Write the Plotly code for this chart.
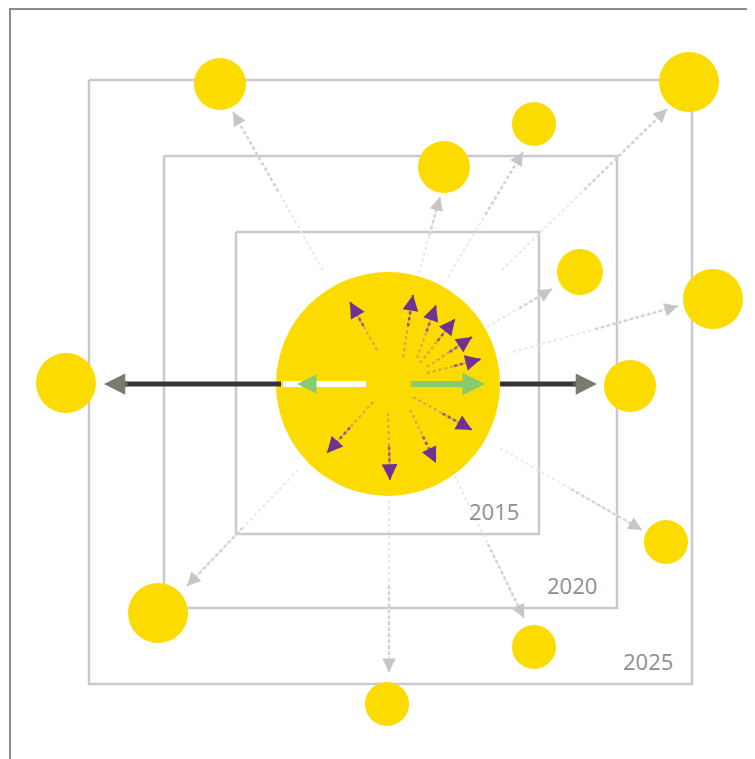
import numpy as np
import plotly.graph_objects as go

W, H = 755, 759
OFF = 8  # page body margin

# core circle
core_x, core_y, core_r = 388, 384, 112

# nested year squares (left, top, right, bottom) and labels
sq_years = ["2015", "2020", "2025"]
sq_left = [236, 164, 89]
sq_top = [232, 156, 80]
sq_right = [539, 617, 692]
sq_bottom = [534, 608, 684]
lbl_x = [494, 572, 648]
lbl_y = [511, 585, 661]

# satellite circles
sat_x = [220, 689, 534, 444, 580, 713, 66, 630, 666, 158, 534, 387]
sat_y = [84, 82, 124, 167, 272, 299, 383, 386, 542, 613, 647, 704]
sat_r = [26, 30, 22, 26, 23, 30, 30, 26, 22, 30, 22, 22]

# light grey arrows: tail -> head
ga_x0 = [323, 419, 448, 502, 487, 513, 500, 452, 389, 298]
ga_y0 = [270, 273, 277, 270, 327, 352, 448, 470, 500, 470]
ga_x1 = [233, 440, 523, 667, 552, 678, 642, 524, 389, 187]
ga_y1 = [112, 197, 152, 109, 289, 306, 530, 618, 672, 586]

# purple arrows inside core
pa_x0 = [377, 403, 417, 420, 427, 427, 413, 410, 388, 373]
pa_y0 = [350, 357, 358, 363, 367, 373, 397, 410, 413, 402]
pa_x1 = [350, 413, 436, 455, 472, 481, 472, 436, 390, 327]
pa_y1 = [302, 295, 305, 319, 337, 359, 430, 463, 480, 453]

# horizontal arrows
blk_left = (281, 104)
blk_right = (500, 597)
white_bar = (283, 366)
green_left_tip = 297
green_right = (411, 485)
axis_y = 384

YELLOW = "#FCDB00"
fig = go.Figure()
ann = []


def head(x0, y0, x1, y1, color, size, width, back=10):
    d = np.array([x1 - x0, y1 - y0], dtype=float)
    d /= np.hypot(*d)
    return dict(x=x1, y=y1, ax=x1 - d[0] * back, ay=y1 - d[1] * back,
                xref="x", yref="y", axref="x", ayref="y", text="",
                showarrow=True, arrowhead=2, arrowsize=size,
                arrowwidth=width, arrowcolor=color)


# frame
fig.add_trace(go.Scatter(x=[10, 10, W], y=[H, 9, 9], mode="lines",
                         line=dict(color="#8c8c90", width=2), hoverinfo="skip"))

# squares
for l, t, r, b in zip(sq_left, sq_top, sq_right, sq_bottom):
    fig.add_trace(go.Scatter(x=[l, r, r, l, l], y=[t, t, b, b, t], mode="lines",
                             line=dict(color="#c9c9d1", width=2.5), hoverinfo="skip"))

# grey arrows
for x0, y0, x1, y1 in zip(ga_x0, ga_y0, ga_x1, ga_y1):
    xm, ym = (x0 + x1) / 2, (y0 + y1) / 2
    fig.add_trace(go.Scatter(x=[x0, x1], y=[y0, y1], mode="lines",
                             line=dict(color="#e8e8e8", width=2, dash="dot"), hoverinfo="skip"))
    fig.add_trace(go.Scatter(x=[xm, x1], y=[ym, y1], mode="lines",
                             line=dict(color="#d2d2d2", width=2.5, dash="dot"), hoverinfo="skip"))
    ann.append(head(x0, y0, x1, y1, "#c6c6c6", 0.9, 3))

# satellites
fig.add_trace(go.Scatter(x=sat_x, y=sat_y, mode="markers",
                         marker=dict(color=YELLOW, opacity=1, size=[2 * r for r in sat_r],
                                     line=dict(width=0)), hoverinfo="skip"))

# core
fig.add_trace(go.Scatter(x=[core_x], y=[core_y], mode="markers",
                         marker=dict(color=YELLOW, opacity=1, size=2 * core_r,
                                     line=dict(width=0)), hoverinfo="skip"))

# purple arrows
for x0, y0, x1, y1 in zip(pa_x0, pa_y0, pa_x1, pa_y1):
    xm, ym = (x0 + x1) / 2, (y0 + y1) / 2
    fig.add_trace(go.Scatter(x=[x0, x1], y=[y0, y1], mode="lines",
                             line=dict(color="rgba(160,110,190,0.5)", width=2, dash="dot"),
                             hoverinfo="skip"))
    fig.add_trace(go.Scatter(x=[xm, x1], y=[ym, y1], mode="lines",
                             line=dict(color="rgba(122,58,158,0.8)", width=2.5, dash="dot"),
                             hoverinfo="skip"))
    ann.append(head(x0, y0, x1, y1, "#6e3194", 0.9, 3.5))

# black arrows
for x0, x1 in (blk_left, blk_right):
    xe = x1 + (10 if x1 < x0 else -10)
    fig.add_trace(go.Scatter(x=[x0, xe], y=[axis_y, axis_y], mode="lines",
                             line=dict(color="#35342f", width=5), hoverinfo="skip"))
    xq = x1 + (24 if x1 < x0 else -24)
    fig.add_trace(go.Scatter(x=[xq, xe], y=[axis_y, axis_y], mode="lines",
                             line=dict(color="#5c5b55", width=5), hoverinfo="skip"))
    ann.append(head(x0, axis_y, x1, axis_y, "#7a7974", 0.85, 5, back=16))

# white bar + green arrows
fig.add_trace(go.Scatter(x=list(white_bar), y=[axis_y, axis_y], mode="lines",
                         line=dict(color="white", width=6), hoverinfo="skip"))
ann.append(head(white_bar[1], axis_y, green_left_tip, axis_y, "#86cc6e", 0.65, 6, back=10))
fig.add_trace(go.Scatter(x=[green_right[0], green_right[1] - 12], y=[axis_y, axis_y],
                         mode="lines", line=dict(color="#86cc6e", width=6), hoverinfo="skip"))
ann.append(head(green_right[0], axis_y, green_right[1], axis_y, "#86cc6e", 0.75, 6, back=14))

# year labels
for t, x, y in zip(sq_years, lbl_x, lbl_y):
    ann.append(dict(x=x, y=y, xref="x", yref="y", text=t, showarrow=False,
                    font=dict(family="Open Sans", size=22, color="#8e8e96")))

fig.update_layout(
    width=W - OFF, height=H - OFF, margin=dict(l=0, r=0, t=0, b=0),
    paper_bgcolor="white", plot_bgcolor="white", showlegend=False,
    xaxis=dict(range=[OFF, W], visible=False, fixedrange=True),
    yaxis=dict(range=[H, OFF], visible=False, fixedrange=True),
    annotations=ann,
)
fig.write_html("out.html", config={"displayModeBar": False})
